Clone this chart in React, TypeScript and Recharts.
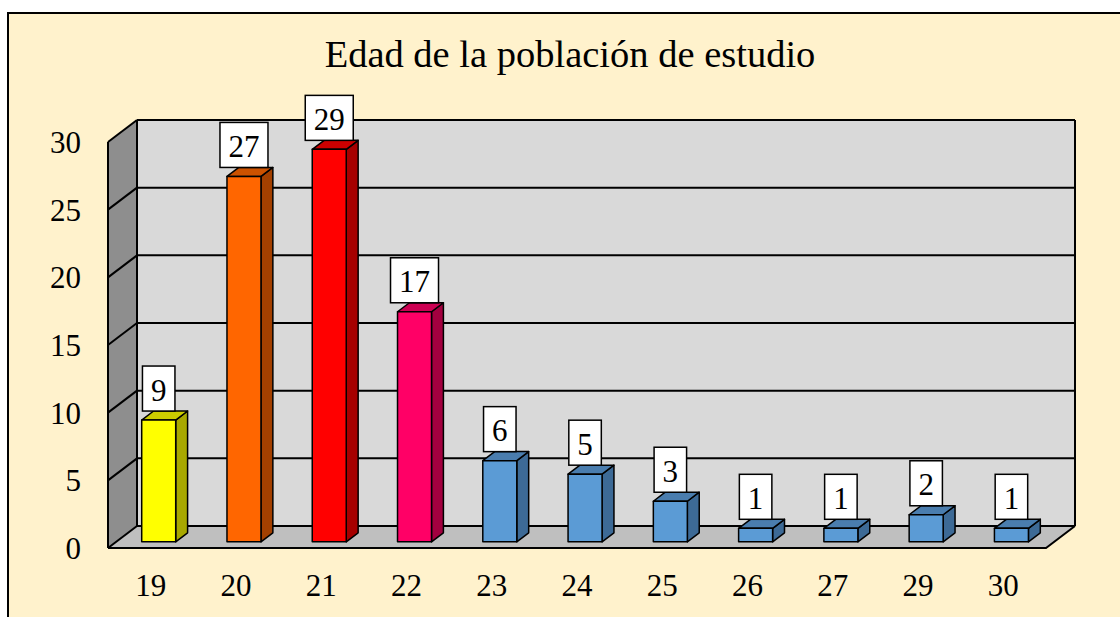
import React from 'react';
import {
  BarChart,
  Bar,
  XAxis,
  YAxis,
  CartesianGrid,
  ReferenceArea,
  LabelList,
} from 'recharts';

// data
const ages = ['19', '20', '21', '22', '23', '24', '25', '26', '27', '29', '30'];
const counts = [9, 27, 29, 17, 6, 5, 3, 1, 1, 2, 1];
const yTicks = [0, 5, 10, 15, 20, 25, 30];

const chartData = ages.map((age, i) => ({ age, count: counts[i] }));

// styling
const FONT = '"Liberation Serif", "Times New Roman", serif';
const DX = 29; // depth of the 3d box, horizontal
const DY = 22; // depth of the 3d box, vertical
const BAR_FRONT = 0.72; // where the bar front face sits in the depth
const BAR_DEPTH = 0.41;

const PALETTE = [
  { front: '#FFFF00', side: '#A8A800', top: '#CCCC00' },
  { front: '#FF6600', side: '#A34000', top: '#CC5200' },
  { front: '#FF0000', side: '#A60000', top: '#CC0000' },
  { front: '#FF0066', side: '#A3003F', top: '#CC0052' },
];
const BLUE = { front: '#5B9BD5', side: '#3D6A96', top: '#4A7DAE' };
const barColor = (i: number) => PALETTE[i] || BLUE;

function Walls(props: any) {
  const { x, y, width, height } = props;
  const b = y + height;
  return (
    <g>
      <rect x={x} y={y} width={width} height={height} fill="#D9D9D9" />
      <polygon
        points={`${x},${y} ${x},${b} ${x - DX},${b + DY} ${x - DX},${y + DY}`}
        fill="#8E8E8E"
      />
      <polygon
        points={`${x},${b} ${x + width},${b} ${x + width - DX},${b + DY} ${x - DX},${b + DY}`}
        fill="#BFBFBF"
      />
      <g stroke="#000" strokeWidth={2} fill="none">
        <line x1={x} y1={y} x2={x} y2={b} />
        <line x1={x + width} y1={y} x2={x + width} y2={b} />
        <line x1={x - DX} y1={y + DY} x2={x - DX} y2={b + DY} />
        <polyline points={`${x - DX},${b + DY} ${x + width - DX},${b + DY} ${x + width},${b}`} />
      </g>
    </g>
  );
}

function GridLine(props: any) {
  const { x1, x2, y1 } = props;
  return (
    <g key={`g-${y1}`} stroke="#000" strokeWidth={2}>
      <line x1={x1} y1={y1} x2={x2} y2={y1} />
      <line x1={x1 - DX} y1={y1 + DY} x2={x1} y2={y1} />
    </g>
  );
}

function Bar3D(props: any) {
  const { x, y, width, height, index } = props;
  const c = barColor(index);
  const fx = x - DX * BAR_FRONT;
  const fy = y + DY * BAR_FRONT;
  const ddx = DX * BAR_DEPTH;
  const ddy = DY * BAR_DEPTH;
  const fb = fy + height;
  return (
    <g stroke="#000" strokeWidth={1.5} strokeLinejoin="round">
      <polygon
        points={`${fx + width},${fy} ${fx + width + ddx},${fy - ddy} ${fx + width + ddx},${fb - ddy} ${fx + width},${fb}`}
        fill={c.side}
      />
      <polygon
        points={`${fx},${fy} ${fx + ddx},${fy - ddy} ${fx + width + ddx},${fy - ddy} ${fx + width},${fy}`}
        fill={c.top}
      />
      <rect x={fx} y={fy} width={width} height={height} fill={c.front} />
    </g>
  );
}

function ValueBox(props: any) {
  const { x, y, width, value } = props;
  const txt = String(value);
  const w = 17 + txt.length * 15.5;
  const h = 45;
  const cx = x + width / 2 - DX * BAR_FRONT;
  const bottom = y + DY * BAR_FRONT - 9;
  return (
    <g>
      <rect x={cx - w / 2} y={bottom - h} width={w} height={h} fill="#fff" stroke="#000" strokeWidth={1.5} />
      <text x={cx} y={bottom - 10.5} textAnchor="middle" fontFamily={FONT} fontSize={31} fill="#000">
        {txt}
      </text>
    </g>
  );
}

function XTick(props: any) {
  const { x, y, payload } = props;
  return (
    <text x={x - DX} y={y + 62} textAnchor="middle" fontFamily={FONT} fontSize={31} fill="#000">
      {payload.value}
    </text>
  );
}

function YTick(props: any) {
  const { x, y, payload } = props;
  return (
    <text x={x - 48} y={y + DY + 11} textAnchor="end" fontFamily={FONT} fontSize={31} fill="#000">
      {payload.value}
    </text>
  );
}

export default function App() {
  return (
    <div style={{ position: 'absolute', left: 0, top: 0, width: 1120, height: 617, overflow: 'hidden' }}>
      <div
        style={{
          position: 'absolute',
          left: 7,
          top: 12,
          width: 1130,
          height: 630,
          background: '#FFF2CC',
          border: '2px solid #000',
        }}
      />
      <div
        style={{
          position: 'absolute',
          left: 0,
          top: 35,
          width: 1140,
          textAlign: 'center',
          fontFamily: FONT,
          fontSize: 38.5,
          lineHeight: 1,
          color: '#000',
        }}
      >
        Edad de la población de estudio
      </div>
      <div style={{ position: 'absolute', left: 0, top: 0 }}>
        <BarChart
          width={1120}
          height={617}
          data={chartData}
          margin={{ top: 120, right: 45, bottom: 0, left: 0 }}
          barCategoryGap="30%"
        >
          <ReferenceArea y1={0} y2={30} shape={Walls} ifOverflow="visible" zIndex={-200} />
          <CartesianGrid vertical={false} horizontal={GridLine} fill="none" stroke="#000" />
          <XAxis
            dataKey="age"
            height={91}
            axisLine={false}
            tickLine={false}
            interval={0}
            tick={XTick}
          />
          <YAxis
            width={137}
            domain={[0, 30]}
            ticks={yTicks}
            axisLine={false}
            tickLine={false}
            tick={YTick}
          />
          <Bar dataKey="count" shape={Bar3D} isAnimationActive={false}>
            <LabelList dataKey="count" content={ValueBox} />
          </Bar>
        </BarChart>
      </div>
    </div>
  );
}
